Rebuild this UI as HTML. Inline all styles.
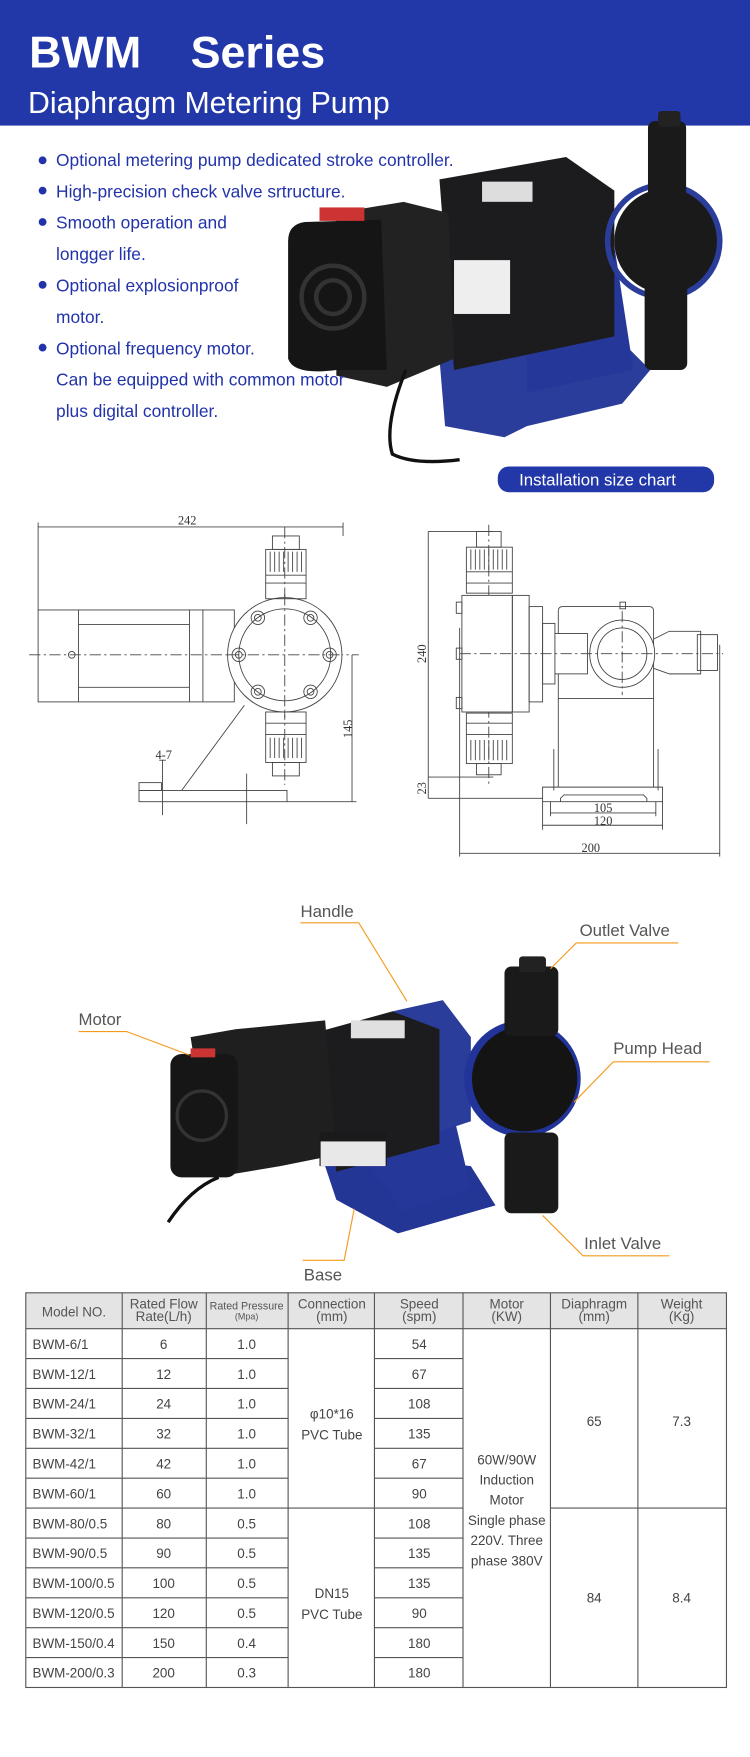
<!DOCTYPE html>
<html><head><meta charset="utf-8"><style>html,body{margin:0;padding:0;background:#fff}svg{display:block}</style></head>
<body>
<svg width="750" height="1757" viewBox="0 0 669 1567" preserveAspectRatio="none" xmlns="http://www.w3.org/2000/svg" font-family="Liberation Sans, Arial, sans-serif">
<rect width="669" height="1567" fill="#fff"/>
<!-- header -->
<rect x="0" y="0" width="669" height="112" fill="#2338a8"/>
<text x="26" y="60" font-size="40" font-weight="bold" fill="#fff">BWM</text>
<text x="170" y="60" font-size="40" font-weight="bold" fill="#fff">Series</text>
<text x="25" y="101" font-size="27" fill="#fff">Diaphragm Metering Pump</text>
<!-- top pump photo approximation -->
<g>
<polygon points="392,320 450,300 540,290 580,330 555,360 470,380 450,390 397,380" fill="#2a3d9a"/>
<polygon points="470,220 545,200 565,330 470,350" fill="#26379a"/>
<polygon points="392,160 505,140 548,170 548,300 405,330" fill="#1c1c1e"/>
<polygon points="300,190 360,180 400,190 405,320 345,345 300,335" fill="#222"/>
<path d="M257,215 Q257,200 272,198 L340,196 L345,330 L300,330 Q262,335 257,320 Z" fill="#151515"/>
<circle cx="297" cy="265" r="28" fill="none" stroke="#333" stroke-width="4"/>
<circle cx="297" cy="265" r="15" fill="none" stroke="#333" stroke-width="4"/>
<rect x="405" y="232" width="50" height="48" fill="#eee"/>
<rect x="430" y="162" width="45" height="18" fill="#ddd"/>
<rect x="285" y="185" width="40" height="12" fill="#c33"/>
<circle cx="595" cy="215" r="47" fill="#1a1a1a"/>
<circle cx="592" cy="215" r="50" fill="none" stroke="#2a3d9a" stroke-width="5"/>
<rect x="578" y="108" width="34" height="75" rx="6" fill="#1a1a1a"/>
<rect x="587" y="99" width="20" height="14" rx="3" fill="#222"/>
<rect x="575" y="250" width="38" height="80" rx="6" fill="#1a1a1a"/>
<path d="M362,330 Q342,380 350,405 Q370,415 410,410" fill="none" stroke="#111" stroke-width="3"/>
</g>
<!-- bullets -->
<g fill="#2233aa" font-size="15.5">
<circle cx="38" cy="143" r="3.5"/><text x="50" y="148">Optional metering pump dedicated stroke controller.</text>
<circle cx="38" cy="170" r="3.5"/><text x="50" y="176">High-precision check valve srtructure.</text>
<circle cx="38" cy="198" r="3.5"/><text x="50" y="204">Smooth operation and</text>
<text x="50" y="232">longger life.</text>
<circle cx="38" cy="254" r="3.5"/><text x="50" y="260">Optional explosionproof</text>
<text x="50" y="288">motor.</text>
<circle cx="38" cy="310" r="3.5"/><text x="50" y="316">Optional frequency motor.</text>
<text x="50" y="344">Can be equipped with common motor</text>
<text x="50" y="372">plus digital controller.</text>
</g>
<rect x="444" y="416" width="193" height="23" rx="10" fill="#2338a8"/>
<text x="533" y="433" font-size="15" fill="#fff" text-anchor="middle">Installation size chart</text>
<!-- left drawing -->
<g fill="none" stroke="#444" stroke-width="0.8">
<line x1="34" y1="470" x2="306" y2="470"/>
<line x1="34" y1="466" x2="34" y2="544"/><line x1="306" y1="466" x2="306" y2="478"/>
<rect x="34" y="544" width="175" height="82"/>
<line x1="70" y1="544" x2="70" y2="626"/><line x1="70" y1="557" x2="169" y2="557"/><line x1="70" y1="613" x2="169" y2="613"/>
<line x1="169" y1="544" x2="169" y2="626"/><line x1="181" y1="544" x2="181" y2="626"/>
<circle cx="64" cy="584" r="3"/>
<line x1="26" y1="584" x2="320" y2="584" stroke-dasharray="10,3,2,3"/>
<line x1="254" y1="470" x2="254" y2="700" stroke-dasharray="10,3,2,3"/>
<circle cx="254" cy="584" r="51" fill="#fff"/>
<circle cx="254" cy="584" r="41"/>
<line x1="203" y1="584" x2="305" y2="584" stroke-dasharray="10,3,2,3"/>
<line x1="254" y1="530" x2="254" y2="640" stroke-dasharray="10,3,2,3"/>
<g><circle cx="230" cy="551" r="6"/><circle cx="230" cy="551" r="3"/>
<circle cx="277" cy="551" r="6"/><circle cx="277" cy="551" r="3"/>
<circle cx="213" cy="584" r="6"/><circle cx="213" cy="584" r="3"/>
<circle cx="294" cy="584" r="6"/><circle cx="294" cy="584" r="3"/>
<circle cx="230" cy="617" r="6"/><circle cx="230" cy="617" r="3"/>
<circle cx="277" cy="617" r="6"/><circle cx="277" cy="617" r="3"/></g>
<rect x="243" y="478" width="24" height="12"/>
<rect x="237" y="490" width="36" height="44"/>
<path d="M241,492v18M245,492v18M249,492v18M253,492v18M257,492v18M261,492v18M265,492v18M269,492v18M237,513h36M237,520h36"/>
<rect x="237" y="635" width="36" height="45"/>
<path d="M241,658v18M245,658v18M249,658v18M253,658v18M257,658v18M261,658v18M265,658v18M269,658v18M237,645h36M237,655h36"/>
<rect x="243" y="680" width="24" height="12"/>
<line x1="218" y1="629" x2="162" y2="705"/>
<rect x="124" y="705" width="132" height="10"/>
<rect x="124" y="698" width="20" height="7"/>
<line x1="145" y1="678" x2="145" y2="727"/><line x1="142" y1="678" x2="148" y2="678"/>
<line x1="220" y1="690" x2="220" y2="735"/>
<line x1="314" y1="584" x2="314" y2="715"/><line x1="256" y1="715" x2="318" y2="715"/>
</g>
<text x="167" y="468" font-size="11" font-family="Liberation Serif, serif" fill="#333" text-anchor="middle">242</text>
<text x="146" y="677" font-size="11" font-family="Liberation Serif, serif" fill="#333" text-anchor="middle">4-7</text>
<text transform="translate(314,650) rotate(-90)" font-size="11" font-family="Liberation Serif, serif" fill="#333" text-anchor="middle">145</text>
<!-- right drawing -->
<g fill="none" stroke="#444" stroke-width="0.8">
<line x1="382" y1="474" x2="382" y2="712"/>
<line x1="382" y1="474" x2="440" y2="474"/><line x1="382" y1="693" x2="440" y2="693"/><line x1="382" y1="712" x2="484" y2="712"/>
<line x1="410" y1="560" x2="410" y2="764"/>
<line x1="436" y1="468" x2="436" y2="700" stroke-dasharray="10,3,2,3"/>
<rect x="425" y="474" width="22" height="14"/>
<rect x="416" y="488" width="41" height="41"/>
<path d="M420,490v18M424,490v18M428,490v18M432,490v18M436,490v18M440,490v18M444,490v18M448,490v18M452,490v18M416,510h41M416,520h41"/>
<rect x="412" y="531" width="45" height="104" fill="#fff"/>
<rect x="407" y="537" width="5" height="10"/><rect x="407" y="578" width="5" height="10"/><rect x="407" y="622" width="5" height="10"/>
<rect x="457" y="531" width="15" height="104"/>
<rect x="472" y="541" width="12" height="85"/>
<rect x="484" y="556" width="11" height="54"/>
<rect x="416" y="636" width="41" height="45"/>
<path d="M420,660v18M424,660v18M428,660v18M432,660v18M436,660v18M440,660v18M444,660v18M448,660v18M452,660v18M416,645h41M416,655h41"/>
<rect x="425" y="681" width="22" height="10"/>
<path d="M498,623 V545 Q498,541 502,541 H579 Q583,541 583,545 V623 Z"/>
<rect x="553" y="537" width="5" height="6"/>
<rect x="495" y="565" width="29" height="36" fill="#fff"/>
<ellipse cx="555" cy="583" rx="29" ry="30" fill="#fff"/>
<ellipse cx="555" cy="583" rx="22" ry="23"/>
<path d="M583,570 L597,563 H625 V601 H597 L583,596"/>
<rect x="622" y="566" width="18" height="32"/>
<line x1="410" y1="583" x2="645" y2="583" stroke-dasharray="10,3,2,3"/>
<line x1="555" y1="545" x2="555" y2="620" stroke-dasharray="10,3,2,3"/>
<line x1="498" y1="623" x2="498" y2="702"/><line x1="583" y1="623" x2="583" y2="702"/>
<line x1="494" y1="668" x2="494" y2="705"/><line x1="587" y1="668" x2="587" y2="705"/>
<path d="M484,702 H591 V715 H484 Z"/>
<path d="M500,715 V712 L503,709 H574 L577,712 V715"/>
<line x1="491" y1="715" x2="491" y2="728"/><line x1="585" y1="715" x2="585" y2="728"/>
<line x1="491" y1="725" x2="585" y2="725"/>
<line x1="484" y1="715" x2="484" y2="740"/><line x1="591" y1="715" x2="591" y2="740"/>
<line x1="484" y1="736" x2="591" y2="736"/>
<line x1="642" y1="575" x2="642" y2="764"/>
<line x1="410" y1="761" x2="642" y2="761"/>
</g>
<g font-size="11" font-family="Liberation Serif, serif" fill="#333" text-anchor="middle">
<text transform="translate(380,583) rotate(-90)">240</text>
<text transform="translate(380,703) rotate(-90)">23</text>
<text x="538" y="724">105</text>
<text x="538" y="736">120</text>
<text x="527" y="760">200</text>
</g>
<!-- labeled photo approximation -->
<g>
<polygon points="290,1040 335,1030 420,1040 442,1075 355,1100 300,1070" fill="#233595"/>
<polygon points="330,1040 350,985 400,975 420,1060 360,1080" fill="#26379a"/>
<polygon points="350,902 395,892 420,925 420,1000 390,1010" fill="#2a3d9a"/>
<polygon points="285,920 350,902 392,918 392,1020 300,1045" fill="#1c1c1e"/>
<polygon points="170,925 210,918 290,910 300,1030 250,1040 190,1050" fill="#1f1f1f"/>
<rect x="152" y="940" width="60" height="110" rx="10" fill="#161616"/>
<circle cx="180" cy="995" r="22" fill="none" stroke="#333" stroke-width="3"/>
<rect x="285" y="1010" width="60" height="30" fill="#1a1a1a"/>
<rect x="286" y="1018" width="58" height="22" fill="#e8e8e8"/>
<rect x="313" y="910" width="48" height="16" fill="#e0e0e0"/>
<rect x="170" y="935" width="22" height="8" fill="#c33"/>
<circle cx="466" cy="962" r="52" fill="#22349a"/>
<circle cx="468" cy="962" r="47" fill="#141414"/>
<rect x="450" y="862" width="48" height="62" rx="6" fill="#1a1a1a"/>
<rect x="463" y="853" width="24" height="14" rx="3" fill="#222"/>
<rect x="450" y="1010" width="48" height="72" rx="6" fill="#1a1a1a"/>
<path d="M195,1050 Q170,1060 150,1090" fill="none" stroke="#111" stroke-width="3"/>
</g>
<g stroke="#f39a1c" stroke-width="1" fill="none">
<path d="M268,823 H320 L363,893"/>
<path d="M605,841 H514 L491,864"/>
<path d="M70,920 H113 L169,941"/>
<path d="M633,947 H547 L512,983"/>
<path d="M597,1120 H520 L484,1084"/>
<path d="M270,1124 H307 L316,1078"/>
</g>
<g font-size="15" fill="#555">
<text x="268" y="818">Handle</text>
<text x="517" y="835">Outlet Valve</text>
<text x="70" y="914">Motor</text>
<text x="547" y="940">Pump Head</text>
<text x="521" y="1114">Inlet Valve</text>
<text x="271" y="1142">Base</text>
</g>
<!-- table -->
<rect x="23" y="1153" width="625" height="32" fill="#e4e4e4"/>
<g stroke="#555" stroke-width="1" fill="none">
<rect x="23" y="1153" width="625" height="352"/>
<line x1="23" y1="1185" x2="648" y2="1185"/>
<line x1="109" y1="1153" x2="109" y2="1505"/>
<line x1="184" y1="1153" x2="184" y2="1505"/>
<line x1="257" y1="1153" x2="257" y2="1505"/>
<line x1="334" y1="1153" x2="334" y2="1505"/>
<line x1="413" y1="1153" x2="413" y2="1505"/>
<line x1="491" y1="1153" x2="491" y2="1505"/>
<line x1="569" y1="1153" x2="569" y2="1505"/>
<path d="M23,1211.7H257M334,1211.7H413M23,1238.3H257M334,1238.3H413M23,1265H257M334,1265H413M23,1291.7H257M334,1291.7H413M23,1318.3H257M334,1318.3H413M23,1345H413M491,1345H648M23,1371.7H257M334,1371.7H413M23,1398.3H257M334,1398.3H413M23,1425H257M334,1425H413M23,1451.7H257M334,1451.7H413M23,1478.3H257M334,1478.3H413"/>
</g>
<g font-size="12" fill="#555" text-anchor="middle">
<text x="66" y="1174">Model NO.</text>
<text x="146" y="1167">Rated Flow</text><text x="146" y="1178">Rate(L/h)</text>
<text x="220" y="1168" font-size="9.5">Rated Pressure</text><text x="220" y="1177" font-size="8">(Mpa)</text>
<text x="296" y="1167">Connection</text><text x="296" y="1178">(mm)</text>
<text x="374" y="1167">Speed</text><text x="374" y="1178">(spm)</text>
<text x="452" y="1167">Motor</text><text x="452" y="1178">(KW)</text>
<text x="530" y="1167">Diaphragm</text><text x="530" y="1178">(mm)</text>
<text x="608" y="1167">Weight</text><text x="608" y="1178">(Kg)</text>
</g>
<g font-size="12" fill="#444">
<g text-anchor="start">
<text x="29" y="1203">BWM-6/1</text><text x="29" y="1229.7">BWM-12/1</text><text x="29" y="1256.3">BWM-24/1</text><text x="29" y="1283">BWM-32/1</text><text x="29" y="1309.7">BWM-42/1</text><text x="29" y="1336.3">BWM-60/1</text>
<text x="29" y="1363">BWM-80/0.5</text><text x="29" y="1389.7">BWM-90/0.5</text><text x="29" y="1416.3">BWM-100/0.5</text><text x="29" y="1443">BWM-120/0.5</text><text x="29" y="1469.7">BWM-150/0.4</text><text x="29" y="1496.3">BWM-200/0.3</text>
</g>
<g text-anchor="middle">
<text x="146" y="1203">6</text><text x="146" y="1229.7">12</text><text x="146" y="1256.3">24</text><text x="146" y="1283">32</text><text x="146" y="1309.7">42</text><text x="146" y="1336.3">60</text>
<text x="146" y="1363">80</text><text x="146" y="1389.7">90</text><text x="146" y="1416.3">100</text><text x="146" y="1443">120</text><text x="146" y="1469.7">150</text><text x="146" y="1496.3">200</text>
<text x="220" y="1203">1.0</text><text x="220" y="1229.7">1.0</text><text x="220" y="1256.3">1.0</text><text x="220" y="1283">1.0</text><text x="220" y="1309.7">1.0</text><text x="220" y="1336.3">1.0</text>
<text x="220" y="1363">0.5</text><text x="220" y="1389.7">0.5</text><text x="220" y="1416.3">0.5</text><text x="220" y="1443">0.5</text><text x="220" y="1469.7">0.4</text><text x="220" y="1496.3">0.3</text>
<text x="374" y="1203">54</text><text x="374" y="1229.7">67</text><text x="374" y="1256.3">108</text><text x="374" y="1283">135</text><text x="374" y="1309.7">67</text><text x="374" y="1336.3">90</text>
<text x="374" y="1363">108</text><text x="374" y="1389.7">135</text><text x="374" y="1416.3">135</text><text x="374" y="1443">90</text><text x="374" y="1469.7">180</text><text x="374" y="1496.3">180</text>
<text x="296" y="1265">φ10*16</text><text x="296" y="1284">PVC Tube</text>
<text x="296" y="1425">DN15</text><text x="296" y="1434" dy="10">PVC Tube</text>
<text x="452" y="1306">60W/90W</text><text x="452" y="1318" dy="6">Induction</text><text x="452" y="1342">Motor</text><text x="452" y="1360">Single phase</text><text x="452" y="1378">220V. Three</text><text x="452" y="1396">phase 380V</text>
<text x="530" y="1272">65</text><text x="608" y="1272">7.3</text>
<text x="530" y="1429">84</text><text x="608" y="1429">8.4</text>
</g>
</g>
</svg>
</body></html>
